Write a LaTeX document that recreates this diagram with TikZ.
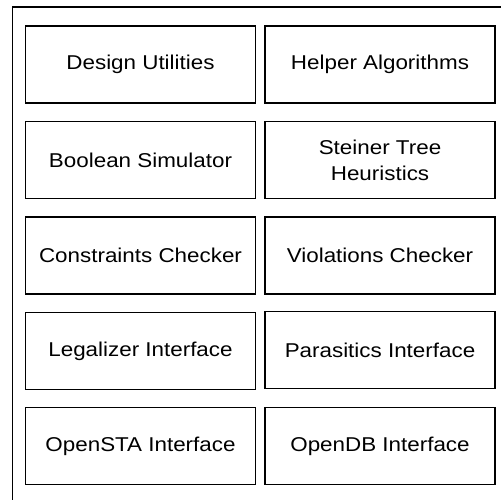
\documentclass[tikz,border=0pt]{standalone}
\usepackage{fontspec}
\setmainfont{Liberation Sans}[FakeStretch=1.12]
\usetikzlibrary{positioning}

\tikzset{
  module/.style={draw, line width=1.3bp, minimum width=230bp, minimum height=77bp,
    inner sep=0pt, align=center, font=\fontsize{20bp}{26bp}\selectfont}
}

\begin{document}
\begin{tikzpicture}[x=1bp,y=-1bp]
  \useasboundingbox (0,0) rectangle (501,500);
  % frame
  \draw[line width=1.2bp] (12.5,500) -- (12.5,7) -- (501,7);
  % left column
  \node[module] (du) at (140.5,64.5) {Design Utilities};
  \node[module] (bs) at (140.5,160) {Boolean Simulator};
  \node[module] (cc) at (140.5,255.5) {Constraints Checker};
  \node[module] (li) at (140.5,351) {Legalizer Interface};
  \node[module] (osta) at (140.5,446) {OpenSTA Interface};
  % right column
  \node[module] (ha) at (380,64.5) {Helper Algorithms};
  \node[module] (st) at (380,160) {Steiner Tree\\Heuristics};
  \node[module] (vc) at (380,255.5) {Violations Checker};
  \node[module] (pi) at (380,350) {Parasitics Interface};
  \node[module] (odb) at (380,446) {OpenDB Interface};
\end{tikzpicture}
\end{document}
